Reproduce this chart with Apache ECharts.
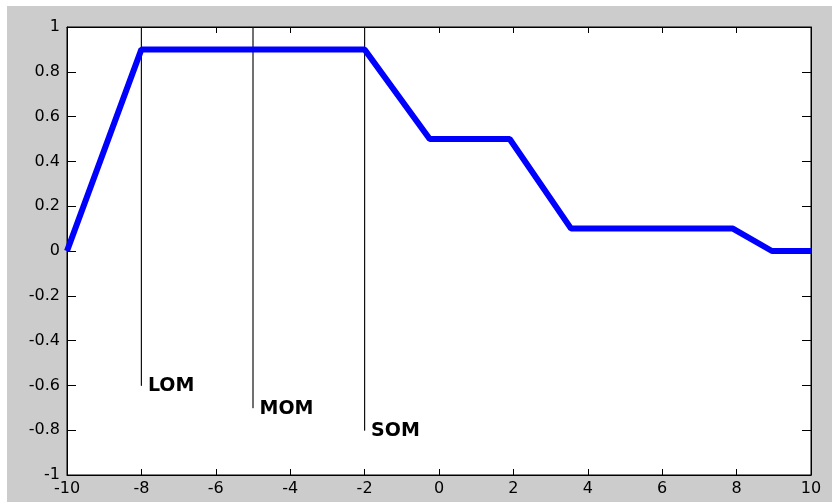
<!DOCTYPE html>
<html>
<head>
<meta charset="utf-8">
<script src="https://cdn.jsdelivr.net/npm/echarts@6/dist/echarts.min.js"></script>
<style>
html,body{margin:0;padding:0;background:#fff;}
#bg{position:absolute;left:7px;top:6px;width:825px;height:496px;background:#cccccc;}
#chart{position:absolute;left:0;top:0;width:832px;height:502px;}
</style>
</head>
<body>
<div id="bg"></div>
<div id="chart"></div>
<script>
// Membership curve
const curveX = [-10, -8, -2, -0.25, 1.9, 3.55, 7.9, 8.95, 10];
const curveY = [0, 0.9, 0.9, 0.5, 0.5, 0.1, 0.1, 0, 0];
// Vertical markers
const markerNames = ['LOM', 'MOM', 'SOM'];
const markerX = [-8, -5, -2];
const markerTop = [1, 1, 1];
const markerBottom = [-0.6, -0.7, -0.8];

const tickFont = {fontFamily: 'DejaVu Sans', fontSize: 16, color: '#000'};

const series = [];
markerNames.forEach((name, i) => {
  series.push({
    type: 'line',
    name: name,
    xAxisIndex: 0, yAxisIndex: 0,
    data: [
      {value: [markerX[i], markerTop[i]], symbolSize: 0},
      {value: [markerX[i], markerBottom[i]],
       label: {show: true, formatter: name, position: 'right', distance: 6, offset: [0, 1],
               color: '#000', fontFamily: 'DejaVu Sans', fontWeight: 'bold', fontSize: 19}}
    ],
    showSymbol: true,
    symbol: 'circle', symbolSize: 1,
    itemStyle: {color: '#111'},
    lineStyle: {color: '#111', width: 1.2},
    silent: true, animation: false, z: 2
  });
});
series.push({
  type: 'line',
  name: 'curve',
  xAxisIndex: 0, yAxisIndex: 0,
  data: curveX.map((x, i) => [x, curveY[i]]),
  showSymbol: false,
  lineStyle: {color: '#0000ff', width: 6, join: 'bevel'},
  animation: false, z: 3
});

const chart = echarts.init(document.getElementById('chart'), null, {renderer: 'canvas'});
const axisLine = {show: true, onZero: false, lineStyle: {color: '#000', width: 1}};
chart.setOption({
  backgroundColor: 'transparent',
  animation: false,
  grid: {left: 67, top: 27, right: 21, bottom: 27, show: true, backgroundColor: '#fff', borderColor: '#000', borderWidth: 1},
  xAxis: [
    {type: 'value', min: -10, max: 10, interval: 2, position: 'bottom',
     axisLine: axisLine,
     axisTick: {show: true, inside: true, length: 6, lineStyle: {color: '#000'}},
     axisLabel: Object.assign({margin: 6, formatter: v => String(+v.toFixed(1))}, tickFont),
     splitLine: {show: false}},
    {type: 'value', min: -10, max: 10, interval: 2, position: 'top',
     axisLine: axisLine,
     axisTick: {show: true, inside: true, length: 6, lineStyle: {color: '#000'}},
     axisLabel: {show: false}, splitLine: {show: false}}
  ],
  yAxis: [
    {type: 'value', min: -1, max: 1, interval: 0.2, position: 'left',
     axisLine: axisLine,
     axisTick: {show: true, inside: true, length: 9, lineStyle: {color: '#000'}},
     axisLabel: Object.assign({margin: 7, formatter: v => String(+v.toFixed(1))}, tickFont),
     splitLine: {show: false}},
    {type: 'value', min: -1, max: 1, interval: 0.2, position: 'right',
     axisLine: axisLine,
     axisTick: {show: true, inside: true, length: 9, lineStyle: {color: '#000'}},
     axisLabel: {show: false}, splitLine: {show: false}}
  ],
  series: series
});
</script>
</body>
</html>
